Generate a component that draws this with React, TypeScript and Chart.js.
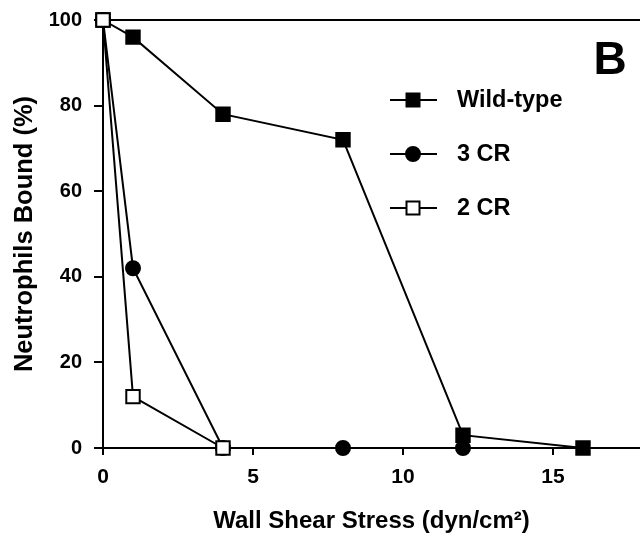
import React, { useEffect, useRef } from "react";
import { Chart, registerables } from "chart.js";

Chart.register(...registerables);

const wildTypeX = [0, 1, 4, 8, 12, 16];
const wildTypeY = [100, 96, 78, 72, 3, 0];
const cr3X = [0, 1, 4, 8, 12];
const cr3Y = [100, 42, 0, 0, 0];
const cr2X = [0, 1, 4];
const cr2Y = [100, 12, 0];

const seriesLabels = ["Wild-type", "3 CR", "2 CR"];
const xTitle = "Wall Shear Stress (dyn/cm²)";
const yTitle = "Neutrophils Bound (%)";
const panelLabel = "B";

const FONT = "'Liberation Sans', Arial, Helvetica, sans-serif";

const toPts = (xs: number[], ys: number[]) => xs.map((x, i) => ({ x, y: ys[i] }));

function drawMarker(ctx: CanvasRenderingContext2D, style: string, x: number, y: number, filled: boolean) {
  ctx.save();
  ctx.lineWidth = 2;
  ctx.strokeStyle = "#000";
  ctx.fillStyle = filled ? "#000" : "#fff";
  ctx.beginPath();
  if (style === "circle") {
    ctx.arc(x, y, 7, 0, Math.PI * 2);
  } else {
    const s = 6.5;
    ctx.rect(x - s, y - s, 2 * s, 2 * s);
  }
  ctx.fill();
  ctx.stroke();
  ctx.restore();
}

const overlayPlugin = {
  id: "overlay",
  beforeDatasetsDraw(chart: any) {
    const { ctx, chartArea, scales } = chart;
    const y = scales.y.getPixelForValue(100);
    ctx.save();
    ctx.strokeStyle = "#000";
    ctx.lineWidth = 2;
    ctx.beginPath();
    ctx.moveTo(chartArea.left, y);
    ctx.lineTo(chart.width, y);
    ctx.stroke();
    ctx.restore();
  },
  afterDraw(chart: any) {
    const { ctx } = chart;
    const rows = [
      { label: seriesLabels[0], style: "rect", filled: true, y: 100 },
      { label: seriesLabels[1], style: "circle", filled: true, y: 154 },
      { label: seriesLabels[2], style: "rect", filled: false, y: 208 },
    ];
    ctx.save();
    rows.forEach((r) => {
      ctx.strokeStyle = "#000";
      ctx.lineWidth = 2;
      ctx.beginPath();
      ctx.moveTo(390, r.y);
      ctx.lineTo(437, r.y);
      ctx.stroke();
      drawMarker(ctx, r.style, 413, r.y, r.filled);
      ctx.fillStyle = "#000";
      ctx.font = `bold 23.5px ${FONT}`;
      ctx.textAlign = "left";
      ctx.textBaseline = "middle";
      ctx.fillText(r.label, 457, r.y + 1);
    });
    ctx.font = `bold 46px ${FONT}`;
    ctx.textAlign = "center";
    ctx.textBaseline = "middle";
    ctx.fillText(panelLabel, 610, 61);
    ctx.restore();
  },
};

export default function App() {
  const ref = useRef<HTMLCanvasElement | null>(null);
  useEffect(() => {
    if (!ref.current) return;
    const common = {
      borderColor: "#000",
      borderWidth: 2,
      pointBorderColor: "#000",
      pointBorderWidth: 2,
      showLine: true,
      tension: 0,
      clip: false as any,
    };
    const chart = new Chart(ref.current, {
      type: "scatter",
      data: {
        datasets: [
          {
            ...common,
            label: seriesLabels[2],
            data: toPts(cr2X, cr2Y),
            pointStyle: "rect",
            pointRadius: 9.5,
            pointBackgroundColor: "#fff",
            order: 0,
          },
          {
            ...common,
            label: seriesLabels[1],
            data: toPts(cr3X, cr3Y),
            pointStyle: "circle",
            pointRadius: 7,
            pointBackgroundColor: "#000",
            order: 1,
          },
          {
            ...common,
            label: seriesLabels[0],
            data: toPts(wildTypeX, wildTypeY),
            pointStyle: "rect",
            pointRadius: 9.5,
            pointBackgroundColor: "#000",
            order: 2,
          },
        ],
      },
      options: {
        animation: false,
        responsive: false,
        layout: { autoPadding: false, padding: { top: 20, right: 0, left: 0, bottom: 0 } },
        plugins: { legend: { display: false }, tooltip: { enabled: false } },
        scales: {
          x: {
            type: "linear",
            min: 0,
            max: 17.9,
            afterFit: (s: any) => {
              s.height = 89;
              s.paddingLeft = 0;
              s.paddingRight = 0;
            },
            ticks: {
              stepSize: 5,
              includeBounds: false,
              color: "#000",
              font: { family: FONT, size: 21, weight: "bold" },
              padding: 10,
              maxRotation: 0,
            },
            grid: {
              display: true,
              drawOnChartArea: false,
              drawTicks: true,
              tickLength: 7,
              color: "#000",
              lineWidth: 2,
            },
            border: { display: true, color: "#000", width: 2 },
            title: {
              display: true,
              text: xTitle,
              color: "#000",
              font: { family: FONT, size: 24, weight: "bold" },
              padding: { top: 0, bottom: 1 },
            },
          },
          y: {
            type: "linear",
            min: 0,
            max: 100,
            afterFit: (s: any) => {
              s.width = 103;
              s.paddingTop = 0;
              s.paddingBottom = 0;
            },
            ticks: {
              stepSize: 20,
              color: "#000",
              font: { family: FONT, size: 20, weight: "bold" },
              padding: 12,
            },
            grid: {
              display: true,
              drawOnChartArea: false,
              drawTicks: true,
              tickLength: 9,
              color: "#000",
              lineWidth: 2,
            },
            border: { display: true, color: "#000", width: 2 },
            title: {
              display: true,
              text: yTitle,
              color: "#000",
              font: { family: FONT, size: 25.5, weight: "bold" },
              padding: { top: 10, bottom: 0 },
            },
          },
        },
      },
      plugins: [overlayPlugin],
    } as any);
    return () => chart.destroy();
  }, []);
  return (
    <div style={{ position: "fixed", left: 0, top: 0, width: 640, height: 537, background: "#fff" }}>
      <canvas ref={ref} width={640} height={537} style={{ display: "block", width: 640, height: 537 }} />
    </div>
  );
}
